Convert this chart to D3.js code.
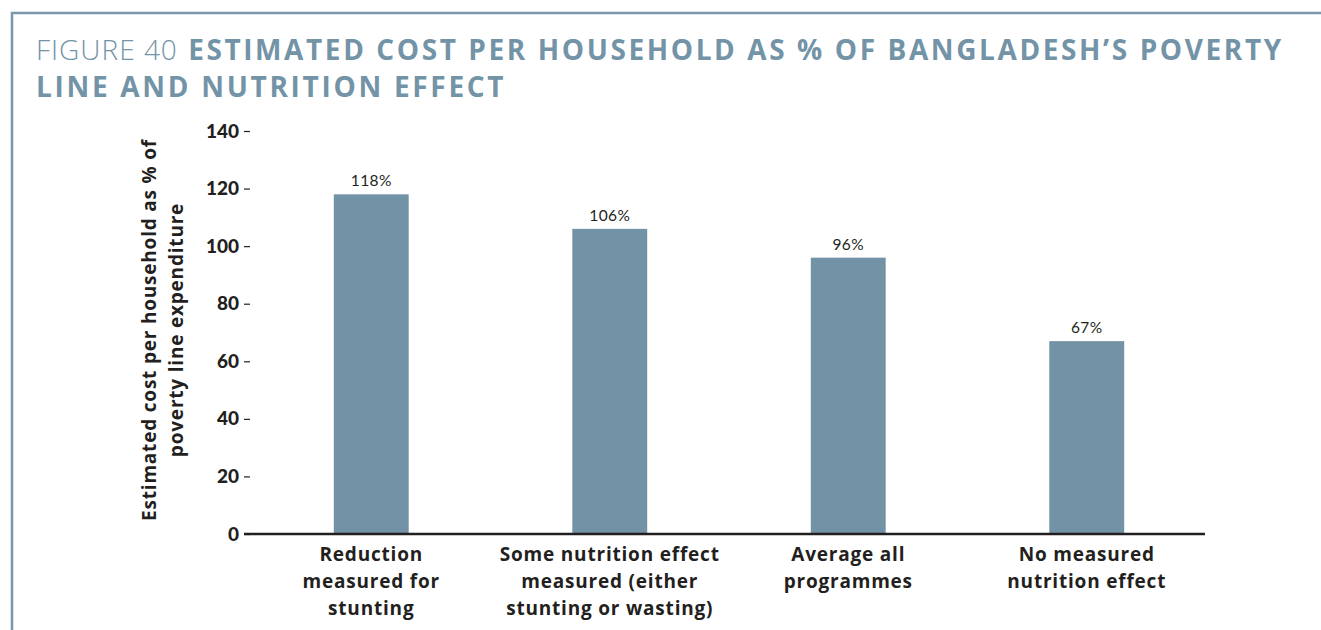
<!DOCTYPE html>
<html>
<head>
<meta charset="utf-8">
<script src="https://cdn.jsdelivr.net/npm/d3@7"></script>
<style>
  body { margin: 0; background: #fff; }
  svg { display: block; font-family: "Open Sans", Lato, sans-serif; }
</style>
</head>
<body>
<div id="chart"></div>
<script>
// data
var categories = [
  ["Reduction", "measured for", "stunting"],
  ["Some nutrition effect", "measured (either", "stunting or wasting)"],
  ["Average all", "programmes"],
  ["No measured", "nutrition effect"]
];
var values = [118, 106, 96, 67];
var yTicks = [0, 20, 40, 60, 80, 100, 120, 140];
var yTitle = ["Estimated cost per household as % of", "poverty line expenditure"];

var blue = "#7292a6", ink = "#231f20";

var svg = d3.select("#chart").append("svg").attr("width", 1321).attr("height", 630);

// frame
svg.append("path")
  .attr("d", "M12,630 V13 H1321")
  .attr("fill", "none").attr("stroke", "#7b98ab").attr("stroke-width", 2.5);

// title
var t1 = svg.append("text").attr("x", 36).attr("y", 60).attr("fill", "#7393a7").attr("font-size", 28);
t1.append("tspan").attr("font-weight", 300).attr("letter-spacing", 1).text("FIGURE 40 ");
t1.append("tspan").attr("font-weight", 700).attr("letter-spacing", 2.6).attr("dx", 2).text("ESTIMATED COST PER HOUSEHOLD AS % OF BANGLADESH\u2019S POVERTY");
svg.append("text").attr("x", 36).attr("y", 97).attr("fill", "#7393a7")
  .attr("font-size", 28).attr("font-weight", 700).attr("letter-spacing", 2.7)
  .text("LINE AND NUTRITION EFFECT");

var y = d3.scaleLinear().domain([0, 140]).range([534, 131]);
var x = d3.scaleBand().domain(d3.range(categories.length)).range([252, 1206])
  .paddingInner(0.686).paddingOuter(0.343);

// y axis (ticks + labels, no spine)
var yAxis = svg.append("g").attr("transform", "translate(250,0)")
  .call(d3.axisLeft(y).tickValues(yTicks).tickSize(6).tickPadding(5));
yAxis.select(".domain").remove();
yAxis.selectAll(".tick line").attr("stroke", ink).attr("stroke-width", 1.2);
yAxis.selectAll(".tick text").attr("fill", ink).attr("font-size", 19).attr("font-weight", 900)
  .attr("font-family", "Lato, sans-serif");

// bars
svg.selectAll(".bar").data(values).enter().append("rect")
  .attr("class", "bar")
  .attr("x", function(d, i) { return x(i); })
  .attr("y", function(d) { return y(d); })
  .attr("width", x.bandwidth())
  .attr("height", function(d) { return y(0) - y(d); })
  .attr("fill", blue);

// value labels
svg.selectAll(".val").data(values).enter().append("text")
  .attr("class", "val")
  .attr("x", function(d, i) { return x(i) + x.bandwidth() / 2; })
  .attr("y", function(d) { return y(d) - 8; })
  .attr("text-anchor", "middle").attr("fill", ink).attr("font-size", 15.5)
  .attr("font-family", "Lato, sans-serif").attr("letter-spacing", 0.4)
  .text(function(d) { return d + "%"; });

// baseline
svg.append("line")
  .attr("x1", 244).attr("x2", x.range()[1] - 1)
  .attr("y1", y(0)).attr("y2", y(0))
  .attr("stroke", ink).attr("stroke-width", 2.5);

// category labels
var cat = svg.selectAll(".cat").data(categories).enter().append("text")
  .attr("class", "cat")
  .attr("text-anchor", "middle").attr("fill", ink)
  .attr("font-size", 19).attr("font-weight", 700).attr("letter-spacing", 0.8);
cat.selectAll("tspan").data(function(d, i) { return d.map(function(s) { return [s, i]; }); })
  .enter().append("tspan")
  .attr("x", function(d) { return x(d[1]) + x.bandwidth() / 2; })
  .attr("y", function(d, j) { return 561 + j * 27; })
  .text(function(d) { return d[0]; });

// y axis title
svg.append("g").attr("transform", "translate(156,330) rotate(-90)")
  .selectAll("text").data(yTitle).enter().append("text")
  .attr("x", 0).attr("y", function(d, i) { return i * 27; })
  .attr("text-anchor", "middle").attr("fill", ink)
  .attr("font-size", 19).attr("font-weight", 700).attr("letter-spacing", 0.8)
  .text(function(d) { return d; });
</script>
</body>
</html>
